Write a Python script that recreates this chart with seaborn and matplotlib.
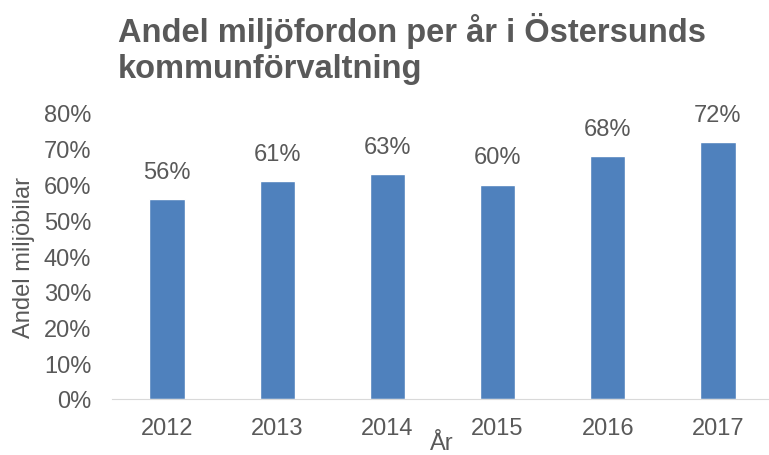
import pandas as pd
import seaborn as sns
import matplotlib.pyplot as plt

years = ['2012', '2013', '2014', '2015', '2016', '2017']
andel = [0.56, 0.61, 0.63, 0.60, 0.68, 0.72]
labels = ['56%', '61%', '63%', '60%', '68%', '72%']

df = pd.DataFrame({'År': years, 'Andel': andel})

sns.set_style('white')
plt.rcParams['font.family'] = ['Liberation Sans', 'DejaVu Sans']
grey = '#595959'

fig = plt.figure(figsize=(7.69, 4.56), dpi=100)
ax = fig.add_axes([112 / 769, 56 / 456, 661 / 769, 286 / 456])

sns.barplot(data=df, x='År', y='Andel', color='#4F81BD', width=0.32,
            saturation=1, ax=ax)

for i, (v, t) in enumerate(zip(andel, labels)):
    ax.text(i, v + 0.045, t, ha='center', va='bottom', fontsize=17, color=grey)

ax.set_xlim(-0.5, 5.5)
ax.set_ylim(0, 0.8)
ax.set_yticks([i / 10 for i in range(9)])
ax.set_yticklabels([f'{i * 10}%' for i in range(9)])
ax.tick_params(axis='both', labelsize=17, colors=grey, length=0)
ax.tick_params(axis='x', pad=13)
ax.tick_params(axis='y', pad=15)

ax.set_xlabel('År', fontsize=17, color=grey, va='top')
ax.xaxis.set_label_coords((442 - 112) / 661, -(433 - 400) / 286)
ax.set_ylabel('Andel miljöbilar', fontsize=17, color=grey, labelpad=6)

for s in ['top', 'right', 'left']:
    ax.spines[s].set_visible(False)
ax.spines['bottom'].set_color('#d9d9d9')

fig.text(118 / 769, 1 - 49 / 456,
         'Andel miljöfordon per år i Östersunds\nkommunförvaltning',
         fontsize=23.5, fontweight='bold', color=grey, ha='left', va='center',
         linespacing=1.18)

plt.savefig('out.png', dpi=100)
